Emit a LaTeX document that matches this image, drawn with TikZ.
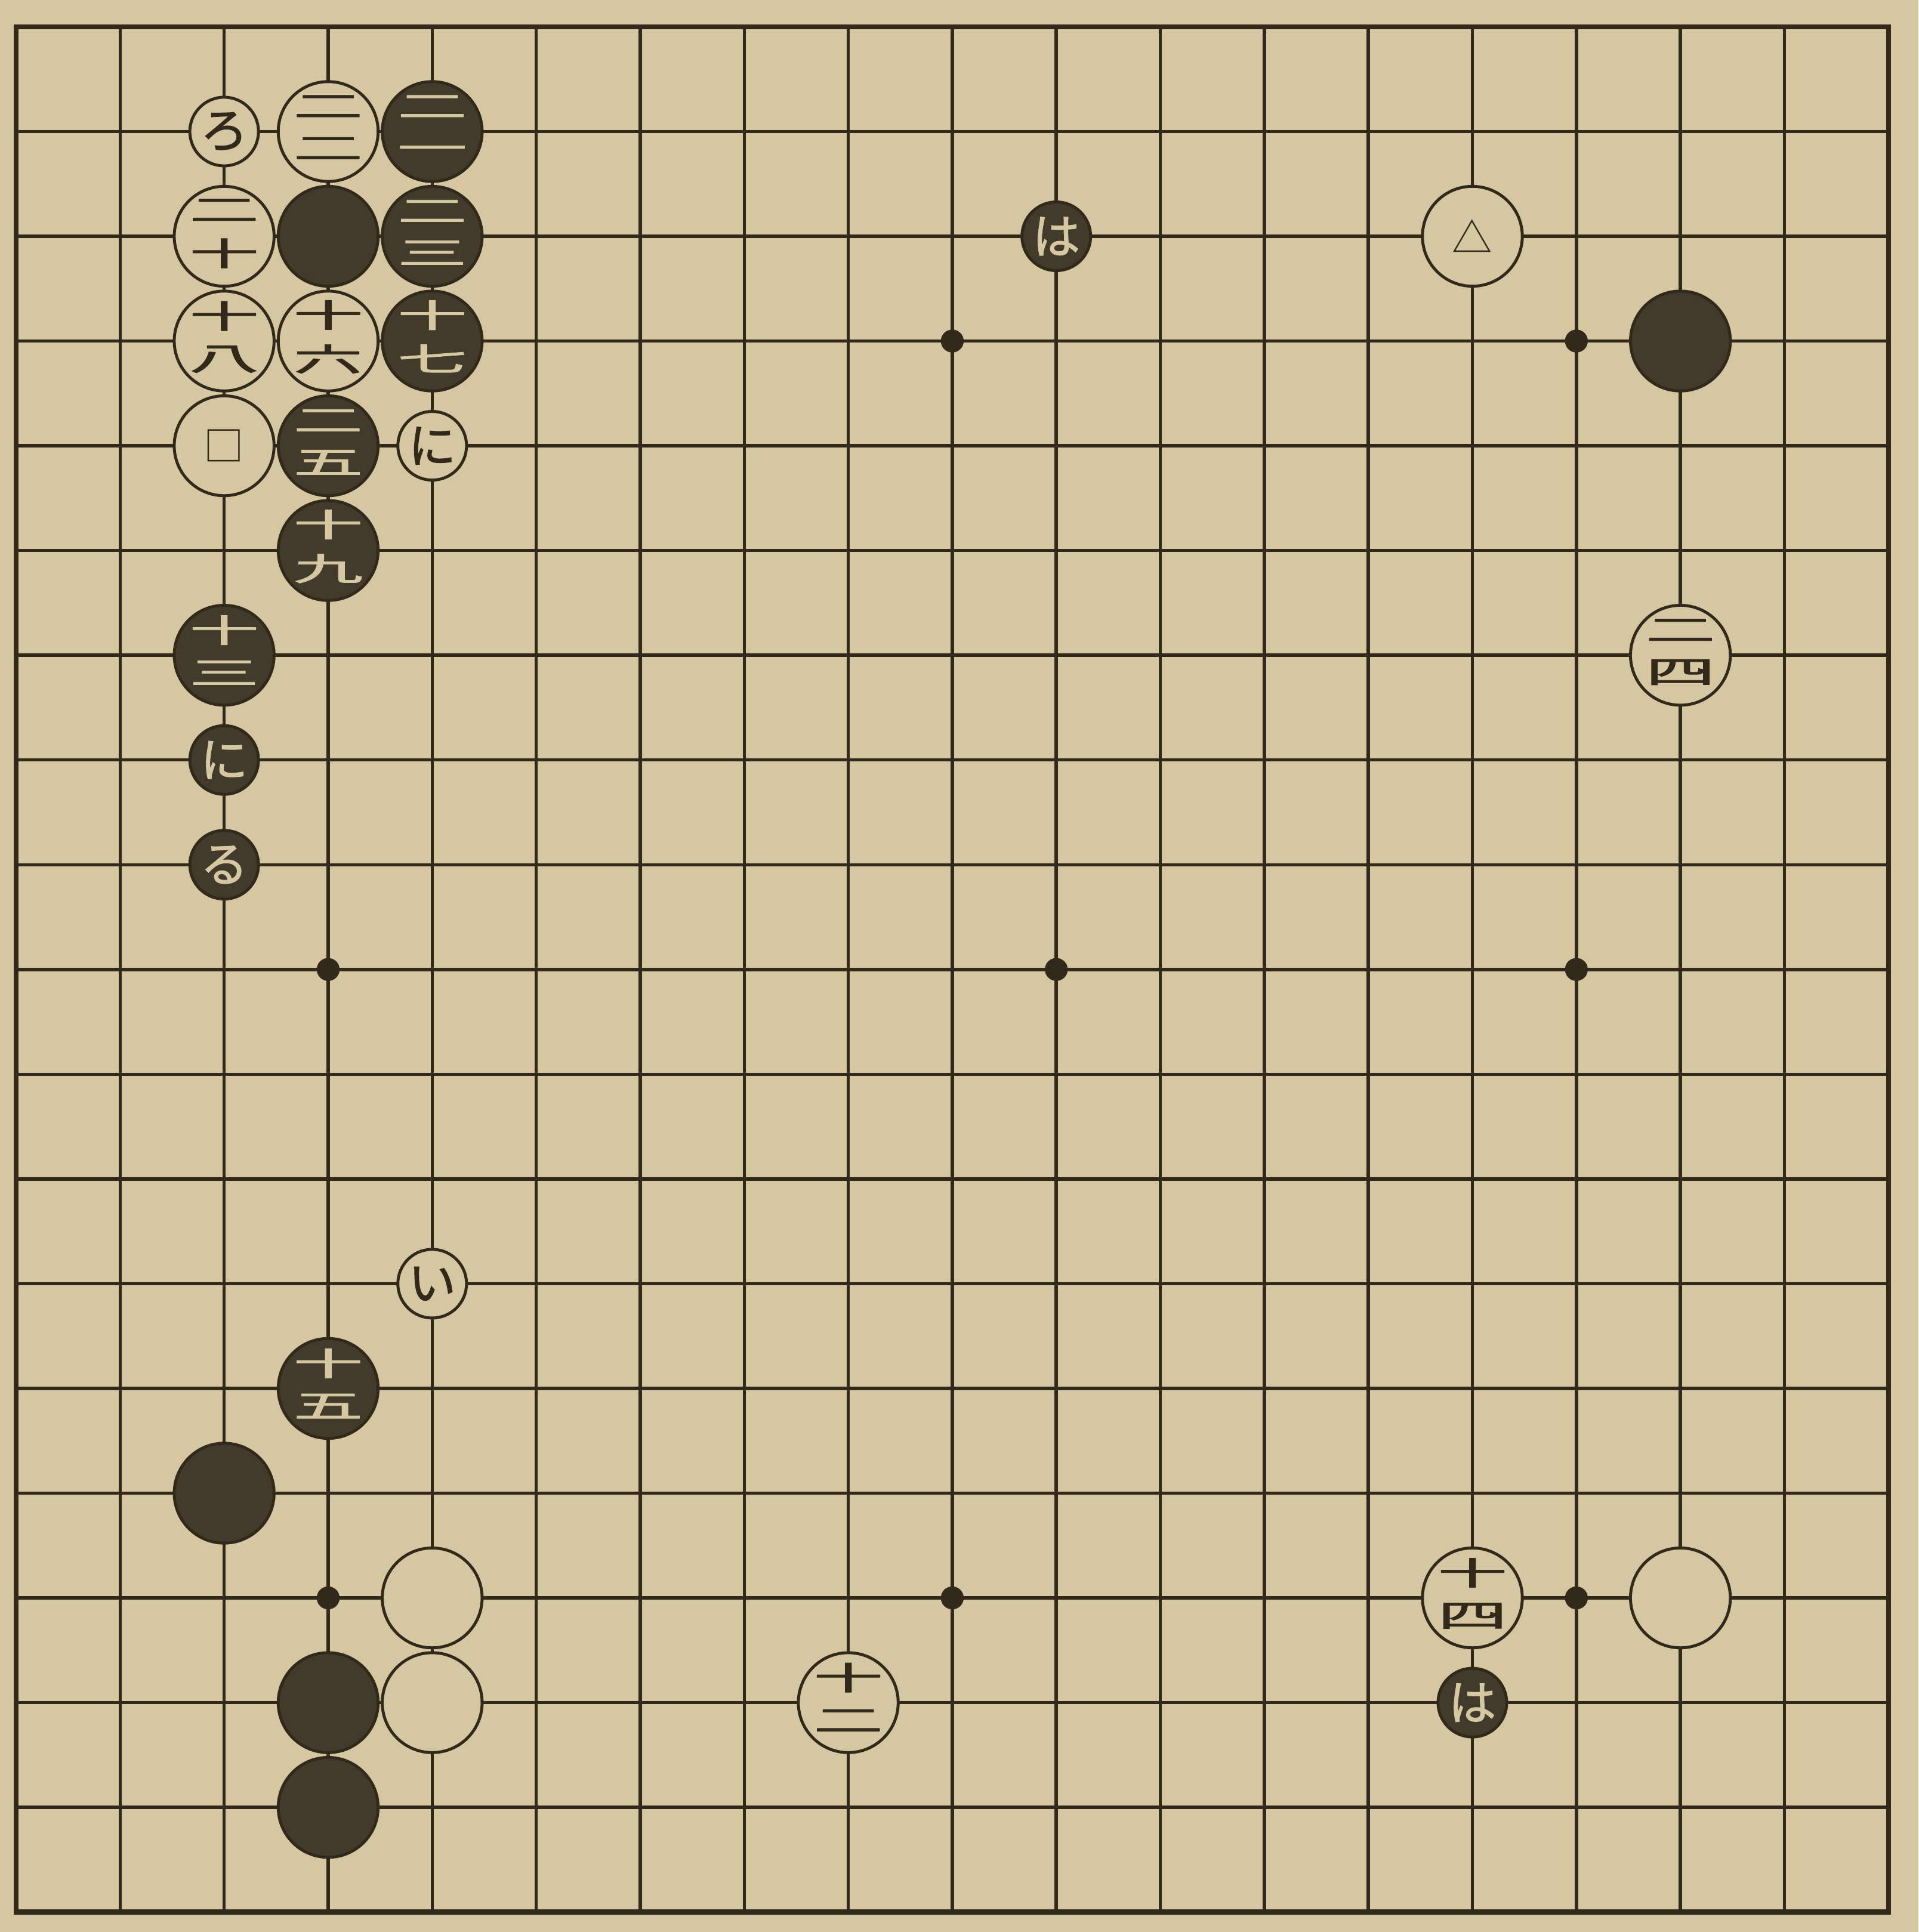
\documentclass[tikz,border=0pt]{standalone}
\usepackage{fontspec}
\usepackage{graphicx}
\newfontfamily\cjk{Noto Sans CJK JP}[AutoFakeBold=1.6]
\usetikzlibrary{shapes.geometric}
\definecolor{papel}{HTML}{D5C7A2}
\definecolor{tinta}{HTML}{32291B}
\definecolor{piedra}{HTML}{423A2B}
\newcommand{\dosk}[2]{\scalebox{1}[0.46]{\begin{tabular}{@{}c@{}}#1\\[4pt]#2\end{tabular}}}
\tikzset{
  linea/.style={draw=tinta,line width=0.9pt},
  borde/.style={draw=tinta,line width=1.4pt},
  negra/.style={circle,draw=tinta,line width=0.8pt,fill=piedra,minimum size=9.6mm,
    inner sep=-8pt,text=papel,font=\cjk\bfseries\fontsize{19}{21}\selectfont},
  blanca/.style={negra,fill=papel,text=tinta},
  letranegra/.style={negra,minimum size=6.6mm,inner sep=0pt,font=\cjk\bfseries\fontsize{13}{14}\selectfont},
  letrablanca/.style={letranegra,fill=papel,text=tinta},
  marca/.style={blanca,inner sep=0pt,font=\cjk\fontsize{11}{12}\selectfont},
  hoshi/.style={circle,fill=tinta,inner sep=0pt,minimum size=2.2mm}
}
\begin{document}
\begin{tikzpicture}[x=1cm,y=-1.007cm]
\fill[papel] (-0.155,-0.256) rectangle (18.29,18.19);
\useasboundingbox (-0.155,-0.256) rectangle (18.29,18.19);
% tablero
\foreach \i in {1,...,17}{
  \draw[linea] (\i,0) -- (\i,18);
  \draw[linea] (0,\i) -- (18,\i);
}
\draw[borde] (0,0) rectangle (18,18);
\foreach \c/\f in {3/3,9/3,15/3,3/9,10/9,15/9,3/15,9/15,15/15}
  \node[hoshi] (h\c-\f) at (\c,\f) {};
% esquina superior izquierda
\node[letrablanca] (ro) at (2,1) {ろ};
\node[blanca] (w22) at (3,1) {\dosk{二}{二}};
\node[negra] (b21) at (4,1) {\dosk{二}{一}};
\node[blanca] (w20) at (2,2) {\dosk{二}{十}};
\node[negra] (n1) at (3,2) {};
\node[negra] (b23) at (4,2) {\dosk{二}{三}};
\node[blanca] (w18) at (2,3) {\dosk{十}{八}};
\node[blanca] (w16) at (3,3) {\dosk{十}{六}};
\node[negra] (b17) at (4,3) {\dosk{十}{七}};
\node[marca] (cuadro) at (2,4) {□};
\node[negra] (b25) at (3,4) {\dosk{二}{五}};
\node[letrablanca] (ni1) at (4,4) {に};
\node[negra] (b19) at (3,5) {\dosk{十}{九}};
\node[negra] (b13) at (2,6) {\dosk{十}{三}};
\node[letranegra] (ni2) at (2,7) {に};
\node[letranegra] (ru) at (2,8) {る};
% arriba a la derecha
\node[letranegra] (ha1) at (10,2) {は};
\node[marca] (tri) at (14,2) {△};
\node[negra] (n2) at (16,3) {};
\node[blanca] (w24) at (16,6) {\dosk{二}{四}};
% abajo a la izquierda
\node[letrablanca] (i) at (4,12) {い};
\node[negra] (b15) at (3,13) {\dosk{十}{五}};
\node[negra] (n3) at (2,14) {};
\node[blanca] (b1) at (4,15) {};
\node[negra] (n4) at (3,16) {};
\node[blanca] (b2) at (4,16) {};
\node[negra] (n5) at (3,17) {};
% abajo
\node[blanca] (w12) at (8,16) {\dosk{十}{二}};
\node[blanca] (w14) at (14,15) {\dosk{十}{四}};
\node[blanca] (b3) at (16,15) {};
\node[letranegra] (ha2) at (14,16) {は};
\end{tikzpicture}
\end{document}
